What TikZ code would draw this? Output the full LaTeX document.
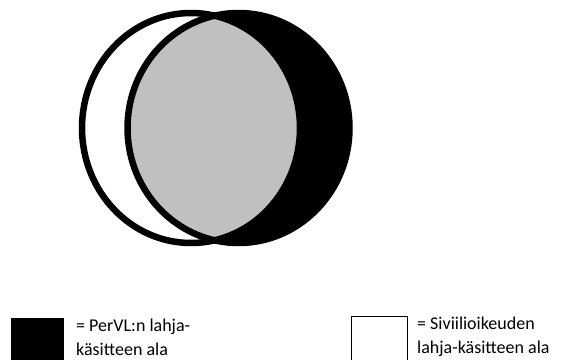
\documentclass[tikz,border=0pt]{standalone}
\usepackage{fontspec}
\setmainfont{Carlito}
\definecolor{lensgray}{RGB}{192,192,192}
\begin{document}
\begin{tikzpicture}[x=1pt,y=-1pt,
  ring/.style={draw=black,line width=6.5pt},
  legtext/.style={anchor=base west,align=left,inner sep=0pt,font=\fontsize{18}{24}\selectfont},
  legbox/.style={draw=black,line width=1pt}]
\useasboundingbox (0,0) rectangle (581,359);
\coordinate (cl) at (191,128);
\coordinate (cr) at (238.5,128);
% right circle black
\fill[black] (cr) ellipse [x radius=111, y radius=115];
% left circle white
\fill[white] (cl) ellipse [x radius=109, y radius=115];
% lens gray
\begin{scope}
  \clip (cr) ellipse [x radius=111, y radius=115];
  \fill[lensgray] (cl) ellipse [x radius=109, y radius=115];
\end{scope}
\draw[ring] (cl) ellipse [x radius=109, y radius=115];
\draw[ring] (cr) ellipse [x radius=111, y radius=115];
% legend
\node[fill=black,minimum width=53pt,minimum height=50pt,inner sep=0pt,anchor=north west] (k1) at (11,318) {};
\node[legtext] (t1) at (76,355) {= PerVL:n lahja-\\käsitteen ala};
\node[legbox,fill=white,minimum width=56pt,minimum height=50pt,inner sep=0pt,anchor=north west] (k2) at (350.5,315.5) {};
\node[legtext] (t2) at (417,353) {= Siviilioikeuden\\lahja-käsitteen ala};
\end{tikzpicture}
\end{document}
